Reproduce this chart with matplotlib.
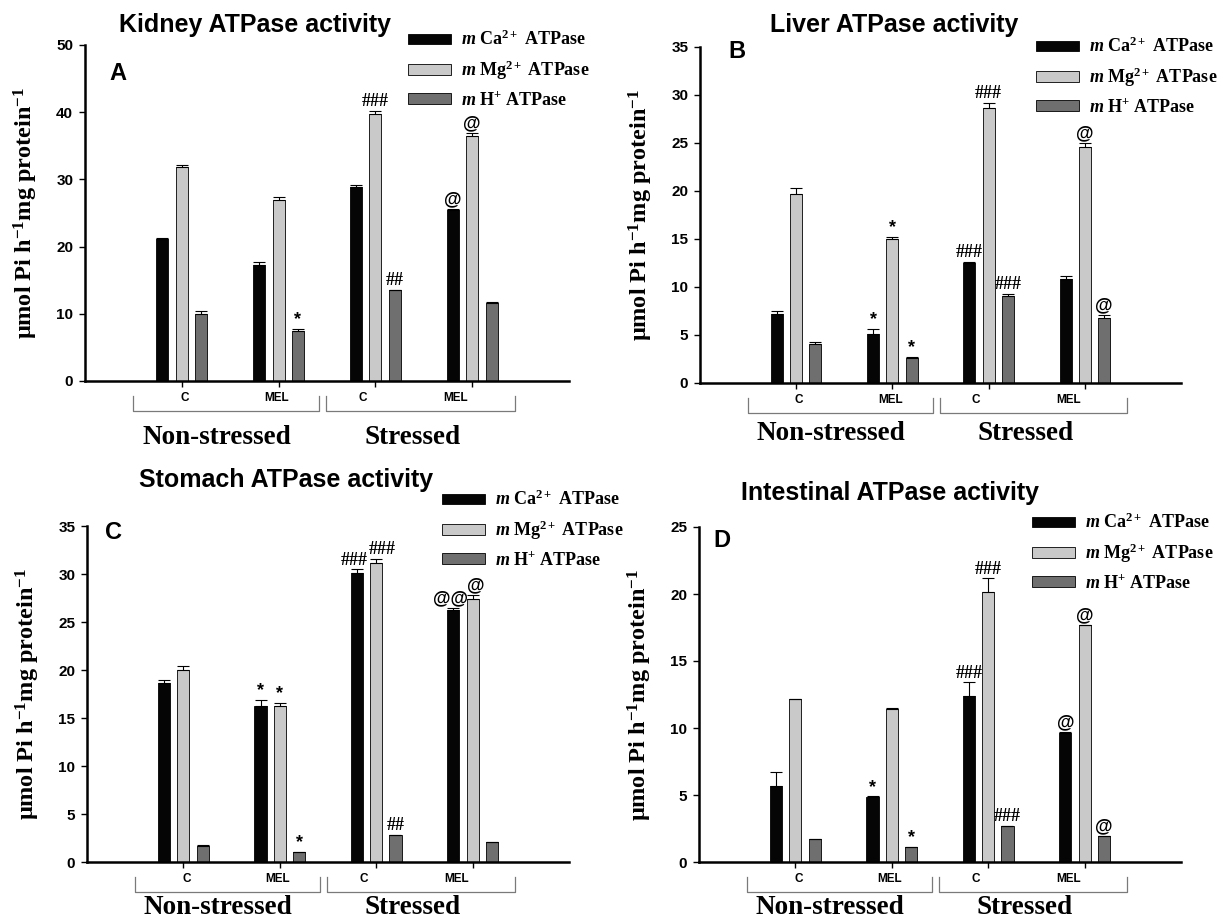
import numpy as np
import matplotlib
matplotlib.use("Agg")
import matplotlib.pyplot as plt
import matplotlib.transforms as mtransforms

plt.rcParams['mathtext.fontset'] = 'custom'
plt.rcParams['mathtext.rm'] = 'Liberation Serif:bold'
plt.rcParams['mathtext.it'] = 'Liberation Serif:italic:bold'
plt.rcParams['mathtext.bf'] = 'Liberation Serif:bold'

# ---- data ----
groups = ["C", "MEL", "C", "MEL"]
conditions = ["Non-stressed", "Stressed"]
series = [r"$\mathit{m}$ Ca$^{2+}$ ATPase", r"$\mathit{m}$ Mg$^{2+}$ ATPase", r"$\mathit{m}$ H$^{+}$ ATPase"]

kidney_ca = [21.1, 17.2, 28.8, 25.5]
kidney_mg = [31.9, 27.0, 39.8, 36.5]
kidney_h = [9.9, 7.4, 13.5, 11.6]
kidney_ca_err = [0.2, 0.5, 0.4, 0.1]
kidney_mg_err = [0.3, 0.4, 0.4, 0.4]
kidney_h_err = [0.5, 0.4, 0.1, 0.1]
kidney_marks = [["", "", "", "@"], ["", "", "###", "@"], ["", "*", "##", ""]]

liver_ca = [7.2, 5.15, 12.45, 10.8]
liver_mg = [19.7, 14.95, 28.6, 24.6]
liver_h = [4.1, 2.6, 9.1, 6.8]
liver_ca_err = [0.3, 0.5, 0.2, 0.3]
liver_mg_err = [0.6, 0.3, 0.6, 0.45]
liver_h_err = [0.2, 0.1, 0.2, 0.25]
liver_marks = [["", "*", "###", ""], ["", "*", "###", "@"], ["", "*", "###", "@"]]

stomach_ca = [18.6, 16.3, 30.1, 26.2]
stomach_mg = [20.05, 16.2, 31.1, 27.35]
stomach_h = [1.67, 1.0, 2.8, 2.05]
stomach_ca_err = [0.35, 0.6, 0.4, 0.25]
stomach_mg_err = [0.35, 0.4, 0.45, 0.5]
stomach_h_err = [0.05, 0.05, 0.05, 0.05]
stomach_marks = [["", "*", "###", "@@"], ["", "*", "###", "@"], ["", "*", "##", ""]]

intestine_ca = [5.64, 4.84, 12.4, 9.66]
intestine_mg = [12.14, 11.42, 20.16, 17.65]
intestine_h = [1.71, 1.09, 2.68, 1.91]
intestine_ca_err = [1.06, 0.05, 1.0, 0.05]
intestine_mg_err = [0.05, 0.05, 1.0, 0.05]
intestine_h_err = [0.03, 0.03, 0.03, 0.03]
intestine_marks = [["", "*", "###", "@"], ["", "", "###", "@"], ["", "*", "###", "@"]]

colors = ["#050505", "#c9c9c9", "#6f6f6f"]
W, H = 1225, 921


def fx(px):
    return px / W


def fy(py):
    return 1 - py / H


def panel(rect, vals, errs, marks, ymax, ystep, title, title_xy, letter, letter_xy, leg_xy,
          cond_y, nudge=None):
    nudge = nudge or {}
    ax = fig.add_axes([fx(rect[0]), fy(rect[3]), fx(rect[2] - rect[0]), (rect[3] - rect[1]) / H])
    x = np.arange(1, len(groups) + 1)
    offs = [-0.2, 0.0, 0.2]
    bars = []
    for i in range(3):
        b = ax.bar(x + offs[i], vals[i], width=0.125, color=colors[i], edgecolor="black",
                   linewidth=0.6, label=series[i])
        ax.errorbar(x + offs[i], vals[i], yerr=[np.zeros(len(groups)), errs[i]], fmt="none",
                    ecolor="black", elinewidth=0.8, capsize=4, capthick=0.8)
        bars.append(b)
        for j in range(len(groups)):
            m = marks[i][j]
            if m:
                top = vals[i][j] + errs[i][j]
                fam = "Liberation Serif" if "#" in m else "Liberation Sans"
                dx, dy = nudge.get((i, j), (0, 0))
                ax.annotate(m, (x[j] + offs[i], top), xytext=(dx, 0.5 + dy), textcoords="offset points",
                            ha="center", va="bottom", fontsize=13, fontweight="bold", family=fam)
    ax.set_xlim(0, 5)
    ax.set_ylim(0, ymax)
    ax.set_yticks(np.arange(0, ymax + 0.1, ystep))
    ax.set_xticks(x)
    ax.set_xticklabels([])
    for s in ["top", "right"]:
        ax.spines[s].set_visible(False)
    for s in ["left", "bottom"]:
        ax.spines[s].set_linewidth(1.8)
    ax.tick_params(axis="both", direction="out", length=4.5, width=1.0, labelsize=11, pad=4)
    for lab in ax.get_yticklabels():
        lab.set_fontweight("bold")
        lab.set_family("Liberation Sans")
    ax.set_ylabel("μmol Pi h$^{-1}$mg protein$^{-1}$", fontsize=17.5, fontweight="bold",
                  family="Liberation Serif")
    ax.yaxis.set_label_coords(-0.093, 0.5)

    # group brackets below axis
    tr = mtransforms.blended_transform_factory(ax.transData, ax.transAxes)
    br = [(0.5, 2.42), (2.49, 4.44)]
    lab_x = [1.03, 1.98, 2.87, 3.83]
    for (a, b) in br:
        ax.plot([a, a, b, b], [-0.046, -0.09, -0.09, -0.046], color="#7a7a7a", lw=0.9,
                transform=tr, clip_on=False)
    for g, lx in zip(groups, lab_x):
        ax.text(lx, -0.05, g, transform=tr, ha="center", va="center", fontsize=8.5,
                fontweight="bold", family="Liberation Sans")
    ax.text(1.36, cond_y, conditions[0], transform=tr, ha="center", va="center", fontsize=19.5,
            fontweight="bold", family="Liberation Serif")
    ax.text(3.38, cond_y, conditions[1], transform=tr, ha="center", va="center", fontsize=19.5,
            fontweight="bold", family="Liberation Serif")

    fig.text(fx(title_xy[0]), fy(title_xy[1]), title, ha="center", va="center", fontsize=18,
             fontweight="bold", family="Liberation Sans")
    fig.text(fx(letter_xy[0]), fy(letter_xy[1]), letter, ha="center", va="center", fontsize=17,
             fontweight="bold", family="Liberation Sans")
    ax.legend(handles=bars, loc="upper left", bbox_to_anchor=(fx(leg_xy[0]), fy(leg_xy[1])),
              bbox_transform=fig.transFigure, frameon=False, borderpad=0, borderaxespad=0,
              handlelength=2.4, handleheight=0.5, handletextpad=0.55, labelspacing=0.5,
              prop={"family": "Liberation Serif", "weight": "bold", "size": 13})
    return ax


fig = plt.figure(figsize=(W / 100, H / 100), dpi=100)

panel((85, 45, 569, 381), [kidney_ca, kidney_mg, kidney_h],
      [kidney_ca_err, kidney_mg_err, kidney_h_err], kidney_marks, 50, 10,
      "Kidney ATPase activity", (255, 25), "A", (118, 73), (408, 30), -0.167)
panel((700, 47, 1181, 383), [liver_ca, liver_mg, liver_h],
      [liver_ca_err, liver_mg_err, liver_h_err], liver_marks, 35, 5,
      "Liver ATPase activity", (894, 25), "B", (737, 52), (1036, 37), -0.149)
panel((87, 526, 569, 862), [stomach_ca, stomach_mg, stomach_h],
      [stomach_ca_err, stomach_mg_err, stomach_h_err], stomach_marks, 35, 5,
      "Stomach ATPase activity", (286, 480), "C", (114, 532), (442, 490), -0.136,
      nudge={(0, 2): (-2, 0), (1, 2): (4, 0), (0, 3): (-2, 0), (1, 3): (2, 0)})
panel((699, 527, 1181, 862), [intestine_ca, intestine_mg, intestine_h],
      [intestine_ca_err, intestine_mg_err, intestine_h_err], intestine_marks, 25, 5,
      "Intestinal ATPase activity", (890, 493), "D", (722, 540), (1032, 513), -0.136)

fig.savefig("out.png", dpi=100)
